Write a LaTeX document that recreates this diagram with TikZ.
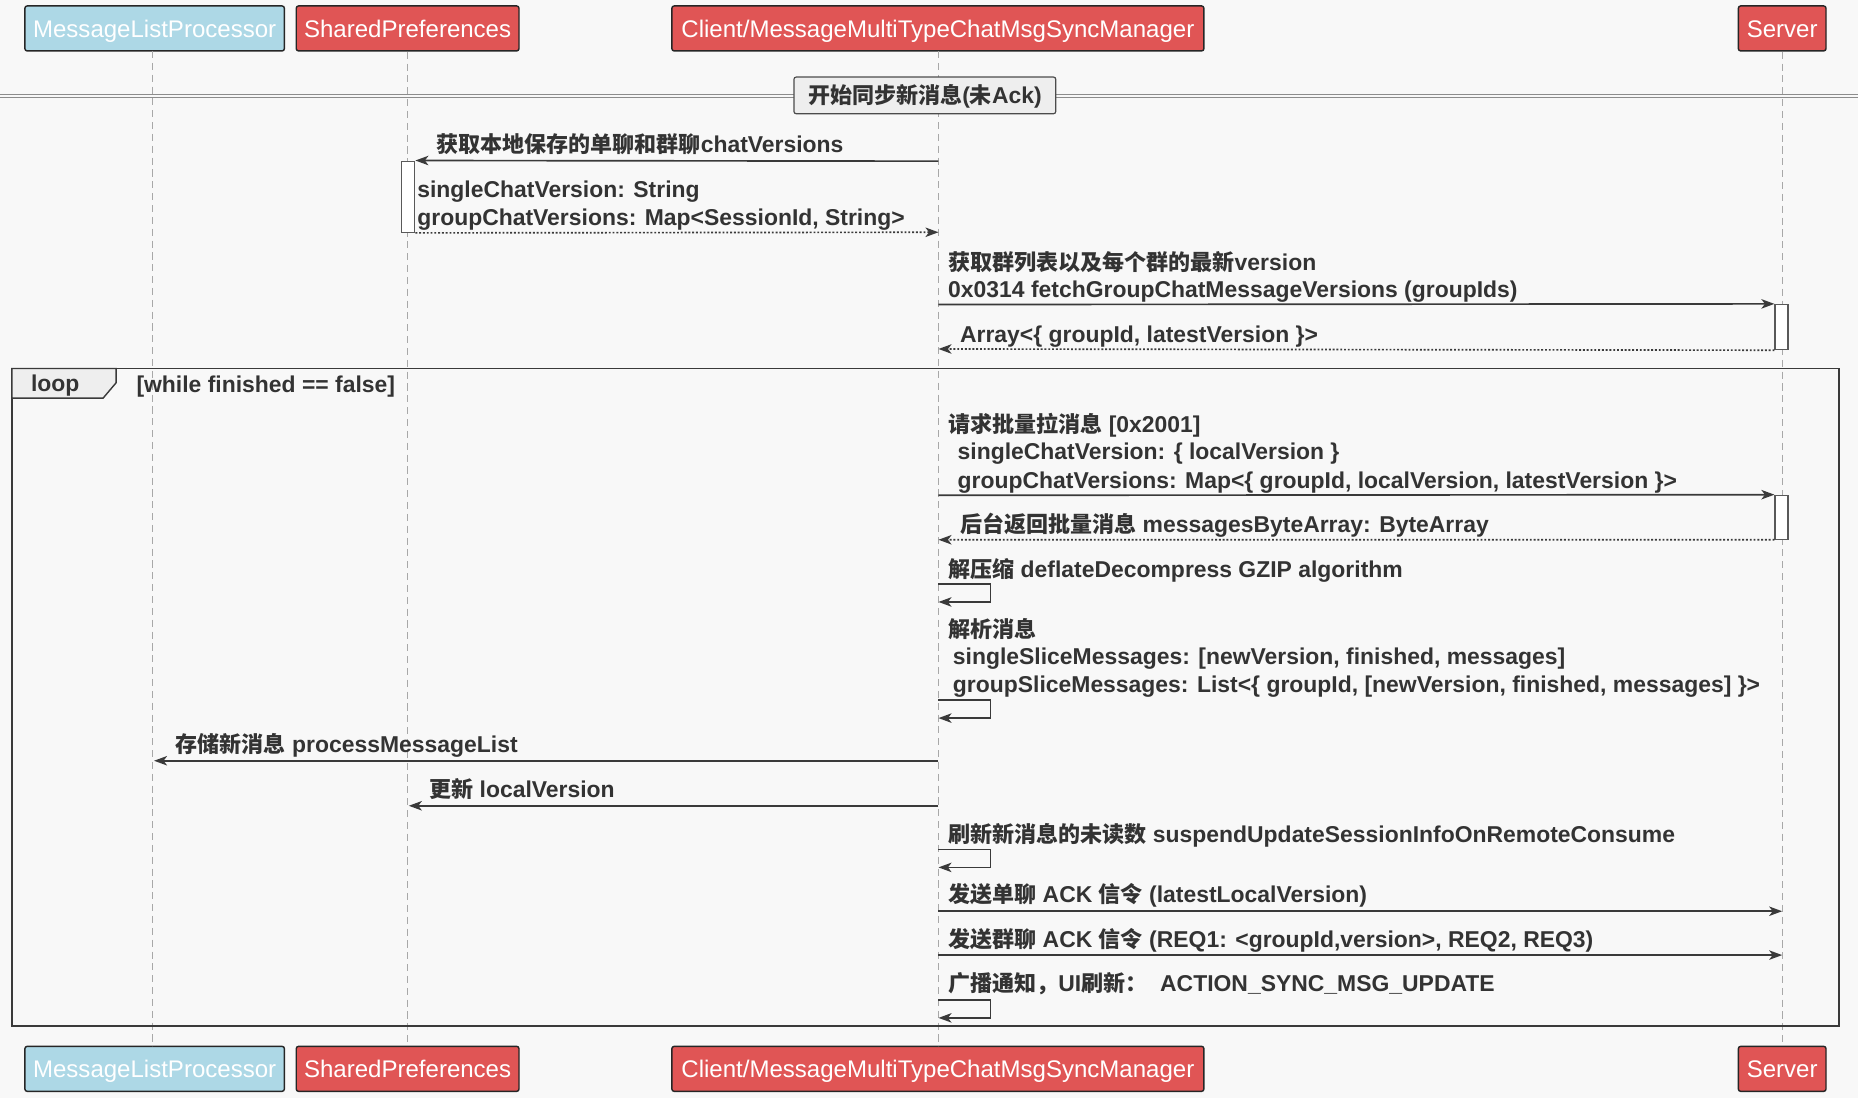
\documentclass[tikz,border=0pt]{standalone}
\usepackage{fontspec}
\setmainfont{Liberation Sans}[Scale=1.04]
\newfontfamily\cjkfam{Noto Sans CJK SC}
\newcommand\zh[1]{{\cjkfam #1}}
\usetikzlibrary{arrows.meta}
\definecolor{bgc}{HTML}{F8F8F8}
\definecolor{hred}{HTML}{E05555}
\definecolor{hblue}{HTML}{ADD8E6}
\definecolor{ink}{HTML}{333333}
\definecolor{linec}{HTML}{3A3A3A}
\definecolor{lifec}{HTML}{A8A8A8}
\definecolor{tabc}{HTML}{EEEEEE}
\begin{document}
\begin{tikzpicture}[x=1pt,y=-1pt,
  hdr/.style={draw=black!85, line width=1.2pt, rounded corners=2pt, text=white, inner sep=0pt, minimum height=38pt, text height=17pt, text depth=2pt, font=\fontsize{19.5}{22}\selectfont},
  life/.style={draw=lifec, line width=0.9pt, dash pattern=on 6pt off 4pt},
  msg/.style={draw=linec, line width=1.4pt, -{Stealth[length=11pt,width=8pt,inset=3pt]}},
  ret/.style={draw=linec, line width=1.4pt, dash pattern=on 1.6pt off 1.6pt, -{Stealth[length=11pt,width=8pt,inset=3pt]}},
  act/.style={draw=black!65, fill=white, line width=1.1pt, inner sep=0pt, minimum width=11pt},
  lbl/.style={anchor=base west, inner sep=0pt, text=ink, font=\fontsize{18.6}{22}\selectfont\bfseries},
]
\useasboundingbox (0,0) rectangle (1568,927);
\fill[bgc] (0,0) rectangle (1568,927);

% participants
\node[hdr, fill=hblue, minimum width=219pt] (h1) at (130.5,24) {MessageListProcessor};
\node[hdr, fill=hred, minimum width=188pt] (h2) at (344,24) {SharedPreferences};
\node[hdr, fill=hred, minimum width=449pt] (h3) at (791.5,24) {Client/MessageMultiTypeChatMsgSyncManager};
\node[hdr, fill=hred, minimum width=74pt] (h4) at (1504,24) {Server};
\node[hdr, fill=hblue, minimum width=219pt] (f1) at (130.5,902) {MessageListProcessor};
\node[hdr, fill=hred, minimum width=188pt] (f2) at (344,902) {SharedPreferences};
\node[hdr, fill=hred, minimum width=449pt] (f3) at (791.5,902) {Client/MessageMultiTypeChatMsgSyncManager};
\node[hdr, fill=hred, minimum width=74pt] (f4) at (1504,902) {Server};

% lifelines
\draw[life] (129,43) -- (129,883);
\draw[life] (h2.south) -- (f2.north);
\draw[life] (792,43) -- (792,883);
\draw[life] (h4.south) -- (f4.north);

% divider
\draw[draw=black!45, line width=1pt] (0,79.5) -- (1568,79.5);
\draw[draw=black!45, line width=1pt] (0,82.5) -- (1568,82.5);
\node[draw=black!70, fill=tabc, line width=1pt, rounded corners=2pt, minimum width=221pt, minimum height=31pt, inner sep=0pt, text height=16pt, text depth=3pt, text=ink, font=\fontsize{18.6}{22}\selectfont\bfseries] (div) at (780.5,80.5) {\zh{开始同步新消息}(\zh{未}Ack)};

% activations
\node[act, minimum height=60pt] (act1) at (344.5,166) {};
\node[act, minimum height=38pt] (act2) at (1503.5,276) {};
\node[act, minimum height=37pt] (act3) at (1503.5,436.5) {};

% message 1
\coordinate (m1s) at (792,136);
\draw[msg] (m1s) -- (act1.north east);
\node[lbl] (t1) at (368,129) {\zh{获取本地保存的单聊和群聊}chatVersions};
\coordinate (r1e) at (792,196);
\draw[ret] (act1.south east) -- (r1e);
\node[lbl] (t2a) at (352,167) {singleChatVersion: String};
\node[lbl] (t2b) at (352,190) {groupChatVersions: Map<SessionId, String>};

% message 2
\coordinate (m2s) at (792,257);
\draw[msg] (m2s) -- (act2.north west);
\node[lbl] (t3a) at (800,228) {\zh{获取群列表以及每个群的最新}version};
\node[lbl] (t3b) at (800,251) {0x0314 fetchGroupChatMessageVersions (groupIds)};
\coordinate (r2e) at (792,294.5);
\draw[ret] (act2.south west) -- (r2e);
\node[lbl] (t4) at (810,289) {Array<\{ groupId, latestVersion \}>};

% loop frame
\draw[draw=linec, line width=1.2pt] (10,311) rectangle (1552,866);
\filldraw[draw=linec, fill=tabc, line width=1.2pt] (10,311) -- (98,311) -- (98,323) -- (87,336) -- (10,336) -- cycle;
\node[lbl] (lp) at (26,330) {loop};
\node[lbl] (lc) at (115,331) {[while finished == false]};

% message 3
\coordinate (m3s) at (792,418);
\draw[msg] (m3s) -- (act3.north west);
\node[lbl] (t5a) at (800,365) {\zh{请求批量拉消息} [0x2001]};
\node[lbl] (t5b) at (808,388) {singleChatVersion: \{ localVersion \}};
\node[lbl] (t5c) at (808,412) {groupChatVersions: Map<\{ groupId, localVersion, latestVersion \}>};
\coordinate (r3e) at (792,455.5);
\draw[ret] (act3.south west) -- (r3e);
\node[lbl] (t6) at (810,449) {\zh{后台返回批量消息} messagesByteArray: ByteArray};

% self 1
\coordinate (s1a) at (792,493);
\coordinate (s1b) at (792,508);
\draw[msg] (s1a) -- ++(44,0) |- (s1b);
\node[lbl] (t7) at (800,487) {\zh{解压缩} deflateDecompress GZIP algorithm};

% self 2
\coordinate (s2a) at (792,591);
\coordinate (s2b) at (792,606);
\draw[msg] (s2a) -- ++(44,0) |- (s2b);
\node[lbl] (t8a) at (800,538) {\zh{解析消息}};
\node[lbl] (t8b) at (804,561) {singleSliceMessages: [newVersion, finished, messages]};
\node[lbl] (t8c) at (804,584) {groupSliceMessages: List<\{ groupId, [newVersion, finished, messages] \}>};

% store
\coordinate (m4s) at (792,642);
\coordinate (m4e) at (130,642);
\draw[msg] (m4s) -- (m4e);
\node[lbl] (t9) at (148,635) {\zh{存储新消息} processMessageList};

% update
\coordinate (m5s) at (792,680);
\coordinate (m5e) at (345,680);
\draw[msg] (m5s) -- (m5e);
\node[lbl] (t10) at (362,673) {\zh{更新} localVersion};

% self 3
\coordinate (s3a) at (792,717);
\coordinate (s3b) at (792,732);
\draw[msg] (s3a) -- ++(44,0) |- (s3b);
\node[lbl] (t11) at (800,711) {\zh{刷新新消息的未读数} suspendUpdateSessionInfoOnRemoteConsume};

% ack 1
\coordinate (m6s) at (792,769);
\coordinate (m6e) at (1504,769);
\draw[msg] (m6s) -- (m6e);
\node[lbl] (t12) at (800,762) {\zh{发送单聊} ACK \zh{信令} (latestLocalVersion)};

% ack 2
\coordinate (m7s) at (792,806);
\coordinate (m7e) at (1504,806);
\draw[msg] (m7s) -- (m7e);
\node[lbl] (t13) at (800,800) {\zh{发送群聊} ACK \zh{信令} (REQ1: <groupId,version>, REQ2, REQ3)};

% self 4
\coordinate (s4a) at (792,844);
\coordinate (s4b) at (792,859);
\draw[msg] (s4a) -- ++(44,0) |- (s4b);
\node[lbl] (t14) at (800,837) {\zh{广播通知，}UI\zh{刷新：}\ \ ACTION\_SYNC\_MSG\_UPDATE};
\end{tikzpicture}
\end{document}
